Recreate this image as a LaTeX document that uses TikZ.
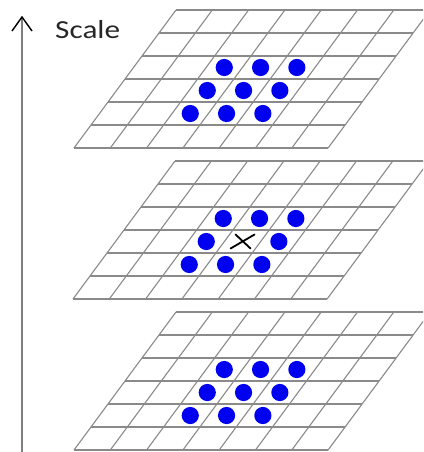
\documentclass[tikz,border=0pt]{standalone}
\usepackage{fontspec}
\setmainfont{Carlito}
\usetikzlibrary{arrows.meta}
\definecolor{gridgray}{HTML}{8A8A8A}
\definecolor{axisgray}{HTML}{7F7F7F}
\definecolor{dotblue}{HTML}{0000F0}
\tikzset{
  gridline/.style={draw=gridgray, line width=1.1pt},
  dotfill/.style={fill=dotblue},
  axisline/.style={draw=axisgray, line width=2.6pt},
  crossline/.style={draw=black, line width=1.8pt, line cap=round},
}
\newcommand{\skgrid}[3]{%
  \begin{scope}[shift={(#1,#2)}, x={(36.3pt,0pt)}, y={(17pt,23pt)}]
    \foreach \v in {0,...,6} \draw[gridline] (0,\v) -- (7,\v);
    \foreach \u in {0,...,7} \draw[gridline] (\u,0) -- (\u,6);
    \foreach \u/\v in {2.5/1.5,3.5/1.5,4.5/1.5,2.5/2.5,4.5/2.5,2.5/3.5,3.5/3.5,4.5/3.5}
      \fill[dotfill] (\u,\v) circle[radius=8.6pt];
    \coordinate (#3) at (3.5,2.5);
  \end{scope}}
\begin{document}
\begin{tikzpicture}[x=1pt,y=-1pt]
  \useasboundingbox (0,0) rectangle (423,452);
  \clip (0,0) rectangle (423,452);
  \skgrid{74}{148}{ctop}
  \skgrid{73}{299}{cmid}
  \skgrid{74}{450}{cbot}
  \fill[dotfill] (ctop) circle[radius=8.6pt];
  \fill[dotfill] (cbot) circle[radius=8.6pt];
  % cross at the centre of the middle layer
  \draw[crossline] ([shift={(-12,7)}]cmid) -- ([shift={(12,-7)}]cmid);
  \draw[crossline] ([shift={(-7,-7)}]cmid) -- ([shift={(8,7)}]cmid);
  % scale axis
  \coordinate (axbot) at (22,452);
  \coordinate (axtop) at (22,17);
  \draw[axisline] (axbot) -- ([yshift=-1pt]axtop);
  \draw[black, line width=1.4pt] ([shift={(-10,14)}]axtop) -- (axtop) -- ([shift={(10,14)}]axtop);
  \node[anchor=base west, inner sep=0pt, text=black!85, font=\fontsize{26}{30}\selectfont, xscale=1.2] (lbl) at (55,39) {Scale};
\end{tikzpicture}
\end{document}
